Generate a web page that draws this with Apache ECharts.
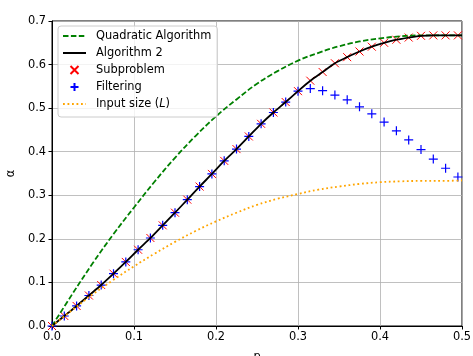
<!DOCTYPE html>
<html>
<head>
<meta charset="utf-8">
<script src="https://cdn.jsdelivr.net/npm/echarts@6/dist/echarts.min.js"></script>
<style>
  html, body { margin: 0; padding: 0; background: #fff; }
  #chart { width: 473px; height: 356px; }
</style>
</head>
<body>
<div id="chart"></div>
<script>
// sample points of the markers (p) and the values
const pSteps = [0, 0.015, 0.03, 0.045, 0.06, 0.075, 0.09, 0.105, 0.12, 0.135, 0.15, 0.165,
    0.18, 0.195, 0.21, 0.225, 0.24, 0.255, 0.27, 0.285, 0.3, 0.315, 0.33, 0.345, 0.36, 0.375,
    0.39, 0.405, 0.42, 0.435, 0.45, 0.465, 0.48, 0.495];
const algo2 = [0, 0.023, 0.046, 0.070, 0.094, 0.120, 0.147, 0.175, 0.202, 0.231, 0.260, 0.290,
    0.320, 0.349, 0.379, 0.406, 0.435, 0.464, 0.490, 0.514, 0.539, 0.563, 0.583, 0.603, 0.617,
    0.630, 0.641, 0.650, 0.657, 0.662, 0.666, 0.667, 0.667, 0.667];
const subproblem = algo2;
const filtering = [0, 0.023, 0.046, 0.070, 0.094, 0.120, 0.147, 0.175, 0.202, 0.231, 0.260, 0.290,
    0.320, 0.349, 0.379, 0.406, 0.435, 0.464, 0.490, 0.514, 0.539, 0.545, 0.540, 0.530, 0.519,
    0.503, 0.487, 0.468, 0.448, 0.427, 0.405, 0.383, 0.362, 0.342];
const algo2End = [0.5, 0.667];

// smooth curves
const pCurve = [0, 0.025, 0.05, 0.075, 0.1, 0.125, 0.15, 0.175, 0.2, 0.225, 0.25, 0.275,
    0.3, 0.325, 0.35, 0.375, 0.4, 0.425, 0.45, 0.475, 0.5];
const quadratic = [0, 0.074, 0.145, 0.211, 0.272, 0.331, 0.386, 0.436, 0.481, 0.520, 0.556, 0.585,
    0.609, 0.627, 0.642, 0.653, 0.660, 0.665, 0.667, 0.667, 0.667];
const inputSize = [0, 0.037, 0.073, 0.106, 0.137, 0.166, 0.193, 0.218, 0.240, 0.260, 0.278, 0.292,
    0.303, 0.313, 0.320, 0.326, 0.330, 0.332, 0.333, 0.333, 0.334];

const xTicks = [0, 0.1, 0.2, 0.3, 0.4, 0.5];
const yTicks = [0, 0.1, 0.2, 0.3, 0.4, 0.5, 0.6, 0.7];

const pairs = (xs, ys) => xs.map((x, i) => [x, ys[i]]);
const font = 'DejaVu Sans';
const noMarker = { color: 'transparent', borderColor: 'transparent', borderWidth: 0 };

const chart = echarts.init(document.getElementById('chart'), null, { renderer: 'canvas' });
const option = {
    animation: false,
    backgroundColor: '#fff',
    textStyle: { fontFamily: font },
    grid: {
        left: 52,
        right: 11,
        top: 21,
        bottom: 30,
        outerBoundsMode: 'none',
        show: true,
        borderColor: '#000',
        borderWidth: 1,
        backgroundColor: '#fff',
    },
    legend: {
        orient: 'vertical',
        left: 58,
        top: 26,
        padding: [3, 6, 6, 4],
        itemWidth: 23,
        itemHeight: 8,
        itemGap: 3,
        backgroundColor: 'rgba(255,255,255,0.8)',
        borderColor: '#cccccc',
        borderWidth: 1,
        borderRadius: 3,
        textStyle: {
            fontFamily: font,
            fontSize: 11.4,
            color: '#000',
            lineHeight: 14,
            padding: [0, 0, 0, 5],
            rich: {
                it: { fontFamily: font, fontSize: 11.4, fontStyle: 'italic', color: '#000' },
            },
        },
        data: [
            { name: 'Quadratic Algorithm', itemStyle: noMarker },
            { name: 'Algorithm 2', itemStyle: noMarker },
            'Subproblem',
            'Filtering',
            { name: 'Input size (L)', itemStyle: noMarker },
        ],
        formatter: function (name) {
            return name === 'Input size (L)' ? 'Input size ({it|L})' : name;
        },
    },
    xAxis: {
        type: 'value',
        min: 0,
        max: 0.5,
        interval: 0.1,
        name: 'p',
        nameLocation: 'middle',
        nameGap: 26,
        nameTextStyle: { fontFamily: font, fontSize: 11.4, color: '#000', verticalAlign: 'top' },
        axisLine: { show: true, lineStyle: { color: '#000', width: 1 } },
        axisTick: { show: true, length: 3.5, lineStyle: { color: '#000' } },
        axisLabel: {
            color: '#000',
            fontSize: 11.4,
            margin: 6,
            formatter: v => xTicks.includes(+v.toFixed(1)) ? v.toFixed(1) : '',
        },
        splitLine: { show: true, lineStyle: { color: '#b0b0b0', width: 0.8 } },
    },
    yAxis: {
        type: 'value',
        min: 0,
        max: 0.7,
        interval: 0.1,
        name: 'α',
        nameLocation: 'middle',
        nameRotate: 90,
        nameGap: 31,
        nameTextStyle: { fontFamily: font, fontSize: 11.4, color: '#000' },
        axisLine: { show: true, lineStyle: { color: '#000', width: 1 } },
        axisTick: { show: true, length: 3.5, lineStyle: { color: '#000' } },
        axisLabel: {
            color: '#000',
            fontSize: 11.4,
            margin: 6,
            formatter: v => yTicks.includes(+v.toFixed(1)) ? v.toFixed(1) : '',
        },
        splitLine: { show: true, lineStyle: { color: '#b0b0b0', width: 0.8 } },
    },
    series: [
        {
            name: 'Quadratic Algorithm',
            type: 'line',
            symbol: 'none',
            smooth: 0.4,
            data: pairs(pCurve, quadratic),
            lineStyle: { color: '#008000', width: 1.8, type: [5.5, 2.4] },
            itemStyle: { color: '#008000' },
        },
        {
            name: 'Algorithm 2',
            type: 'line',
            symbol: 'none',
            smooth: 0.3,
            data: pairs(pSteps, algo2).concat([algo2End]),
            lineStyle: { color: '#000', width: 1.8 },
            itemStyle: { color: '#000' },
        },
        {
            name: 'Subproblem',
            type: 'scatter',
            symbol: 'path://M0,0L10,10M10,0L0,10',
            symbolSize: 8,
            symbolKeepAspect: true,
            data: pairs(pSteps, subproblem),
            itemStyle: { color: 'transparent', borderColor: '#ff0000', borderWidth: 1, opacity: 1 },
        },
        {
            name: 'Filtering',
            type: 'scatter',
            symbol: 'path://M5,0L5,10M0,5L10,5',
            symbolSize: 9,
            symbolKeepAspect: true,
            data: pairs(pSteps, filtering),
            itemStyle: { color: 'transparent', borderColor: '#0000ff', borderWidth: 1.2, opacity: 1 },
        },
        {
            name: 'Input size (L)',
            type: 'line',
            symbol: 'none',
            smooth: 0.4,
            data: pairs(pCurve, inputSize),
            lineStyle: { color: '#ffa500', width: 1.8, type: [1.8, 2.7] },
            itemStyle: { color: '#ffa500' },
        },
    ],
};
chart.setOption(option);
window.addEventListener('resize', chart.resize);
</script>
</body>
</html>
